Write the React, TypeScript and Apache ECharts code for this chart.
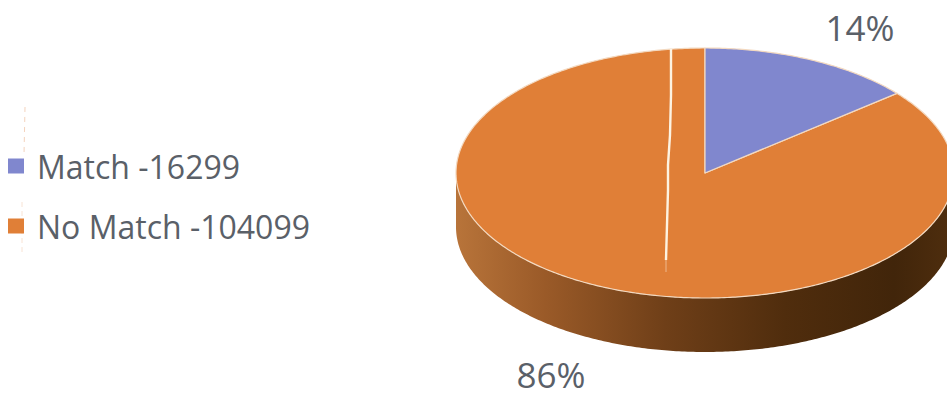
import React, { useEffect, useRef } from "react";
import * as echarts from "echarts";

const categories = ["Match", "No Match"];
const recordCounts = [16299, 104099];
const sharePercents = [14, 86];
const sliceColors = ["#8087ce", "#e07f37"];

// Tilted pie geometry
const CX = 705;
const CY = 173;
const RX = 249;
const RY = 125;
const DEPTH = 54;
const labelAnchors = [
  { x: 860, y: 27 },
  { x: 551, y: 374 },
];

const total = sharePercents.reduce((a, b) => a + b, 0);

function rimPoint(turnDeg: number, drop = 0): number[] {
  const t = (turnDeg * Math.PI) / 180;
  return [CX + RX * Math.sin(t), CY - RY * Math.cos(t) + drop];
}

function arcPoints(from: number, to: number, drop = 0): number[][] {
  const pts: number[][] = [];
  const steps = Math.max(2, Math.ceil(Math.abs(to - from) * 1.5));
  for (let i = 0; i <= steps; i++) pts.push(rimPoint(from + ((to - from) * i) / steps, drop));
  return pts;
}

function sliceRenderer(index: number) {
  return (_params: any, api: any) => {
    const share = api.value(0);
    const before = sharePercents.slice(0, index).reduce((a, b) => a + b, 0);
    const start = (before / total) * 360;
    const end = start + (share / total) * 360;
    const children: any[] = [];

    // Front wall of the slice: only the part of the rim facing the viewer
    const wallFrom = Math.max(start, 90);
    const wallTo = Math.min(end, 270);
    if (wallTo > wallFrom) {
      children.push({
        type: "polygon",
        shape: { points: [...arcPoints(wallFrom, wallTo), ...arcPoints(wallTo, wallFrom, DEPTH)] },
        style: {
          fill: new echarts.graphic.LinearGradient(0, 0, 1, 0, [
            { offset: 0, color: "#b8743a" },
            { offset: 0.18, color: "#9a5a28" },
            { offset: 0.42, color: "#6f3f18" },
            { offset: 0.66, color: "#502d0d" },
            { offset: 0.88, color: "#41250a" },
            { offset: 1, color: "#4f2e0e" },
          ]),
        },
      });
    }

    children.push({
      type: "polygon",
      shape: { points: [[CX, CY], ...arcPoints(start, end)] },
      style: { fill: api.visual("color"), stroke: "#f3d9c0", lineWidth: 1.2, lineJoin: "round" },
    });

    children.push({
      type: "text",
      x: labelAnchors[index].x,
      y: labelAnchors[index].y,
      style: {
        text: `${share}%`,
        fill: "#5a6068",
        font: '35px "Open Sans"',
        align: "center",
        verticalAlign: "middle",
      },
    });
    return { type: "group", children };
  };
}

export default function App() {
  const ref = useRef<HTMLDivElement>(null);
  useEffect(() => {
    const chart = echarts.init(ref.current!, null, { renderer: "svg" });
    chart.setOption({
      animation: false,
      backgroundColor: "#ffffff",
      legend: {
        orient: "vertical",
        left: 8,
        top: 150,
        padding: 0,
        itemWidth: 16,
        itemHeight: 15,
        itemGap: 28,
        icon: "rect",
        textStyle: { fontSize: 32, color: "#5a6068", fontFamily: "Open Sans", padding: [0, 0, 0, 8] },
        data: categories.map((c, i) => `${c} -${recordCounts[i]}`),
      },
      series: categories
        .map((c, i) => ({
          type: "custom",
          name: `${c} -${recordCounts[i]}`,
          coordinateSystem: "none",
          itemStyle: { color: sliceColors[i] },
          renderItem: sliceRenderer(i),
          data: [sharePercents[i]],
          z: i === 0 ? 3 : 2,
        })),
      graphic: [
        {
          type: "polyline",
          z: 10,
          shape: { points: [[671, 49], [671, 95], [670, 135], [668, 165], [668, 190], [667, 225], [666, 260]] },
          style: { stroke: "#fdf3e2", lineWidth: 2.4, fill: "none" },
        },
        {
          type: "line",
          z: 10,
          shape: { x1: 666, y1: 260, x2: 666, y2: 272 },
          style: { stroke: "#eeb88c", lineWidth: 1 },
        },
        {
          type: "line",
          shape: { x1: 25, y1: 107, x2: 24, y2: 155 },
          style: { stroke: "#f4d3bd", lineWidth: 1, lineDash: [5, 5] },
        },
        {
          type: "line",
          shape: { x1: 22, y1: 202, x2: 22, y2: 255 },
          style: { stroke: "#f8e3d4", lineWidth: 1, lineDash: [5, 4] },
        },
      ],
    });
    return () => chart.dispose();
  }, []);
  return (
    <div
      ref={ref}
      style={{ position: "fixed", left: 0, top: 0, width: 947, height: 397, overflow: "hidden" }}
    />
  );
}
